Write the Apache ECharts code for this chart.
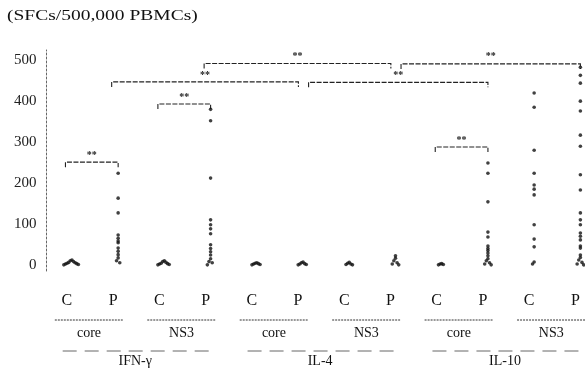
<!DOCTYPE html>
<html>
<head>
<meta charset="utf-8">
<script src="https://cdn.jsdelivr.net/npm/echarts@6/dist/echarts.min.js"></script>
<style>html,body{margin:0;padding:0;background:#fff}#c{width:585px;height:374px}</style>
</head>
<body>
<div id="c"></div>
<script>
// ---- data ----
const categories = ['C','P','C','P','C','P','C','P','C','P','C','P'];
const antigens = ['core','NS3','core','NS3','core','NS3'];
const cytokines = ['IFN-γ','IL-4','IL-10'];
const yTicks = [0,100,200,300,400,500];
const yTitle = '(SFCs/500,000 PBMCs)';

const ifnCoreC  = [0,1,2,3,4,5,6,8,10,12];
const ifnCoreP  = [224,163,127,73,65,58,54,41,33,25,17,10,5];
const ifnNs3C   = [0,1,2,3,4,6,8,10];
const ifnNs3P   = [380,352,212,110,98,88,76,49,40,32,24,15,8,5,0];
const il4CoreC  = [0,1,2,3,4,5];
const il4CoreP  = [0,1,2,3,5,7];
const il4Ns3C   = [0,1,2,4,6];
const il4Ns3P   = [0,2,5,10,16,22];
const il10CoreC = [0,1,2,3];
const il10CoreP = [249,224,154,80,68,46,40,35,29,22,15,10,5,2,0];
const il10Ns3C  = [420,385,280,224,195,185,171,98,63,44,7,2];
const il10Ns3P  = [483,463,444,400,376,317,290,220,183,127,110,98,78,70,61,46,41,24,18,12,6,2,0];

const columns = [ifnCoreC, ifnCoreP, ifnNs3C, ifnNs3P, il4CoreC, il4CoreP,
                 il4Ns3C, il4Ns3P, il10CoreC, il10CoreP, il10Ns3C, il10Ns3P];

// significance brackets: [from column, to column, level]
const brackets = [[0,1,251],[2,3,393],[1,5,447],[5,9,446],[3,7,492],[7,11,491],[8,9,288]];
const sigLabel = '**';

// ---- build scatter points (low values spread into a small heap) ----
const points = [];
columns.forEach((vals, ci) => {
  const low = vals.filter(v => v < 20).sort((a,b)=>b-a);
  const high = vals.filter(v => v >= 20);
  high.forEach(v => points.push([ci, v]));
  low.forEach((v, k) => {
    const step = Math.ceil(k/2) * (k % 2 ? -1 : 1);
    points.push([ci + step*0.035, v]);
  });
});

const serif = 'Liberation Serif, Times New Roman, serif';
const chart = echarts.init(document.getElementById('c'), null, {renderer:'canvas'});
const XMIN = -0.55, XMAX = 11.1;
const axisBase = {
  type:'value', min:XMIN, max:XMAX, position:'bottom',
  axisLine:{show:false}, axisTick:{show:false}, splitLine:{show:false}
};
chart.setOption({
  animation:false,
  backgroundColor:'#fff',
  grid:{left:46.5, right:0, top:50, bottom:103},
  xAxis:[
    Object.assign({}, axisBase, {
      axisLabel:{customValues: categories.map((c,i)=>i), formatter:v=>categories[Math.round(v)],
        margin:22, fontFamily:serif, fontSize:16, color:'#111', padding:[0,10,0,0]}
    }),
    Object.assign({}, axisBase, {
      axisLabel:{customValues: antigens.map((a,i)=>2*i+0.5), formatter:v=>antigens[Math.round((v-0.5)/2)],
        margin:55, fontFamily:serif, fontSize:14, color:'#111', padding:[0,12,0,0]}
    }),
    Object.assign({}, axisBase, {
      axisLabel:{customValues: cytokines.map((a,i)=>4*i+1.5), formatter:v=>cytokines[Math.round((v-1.5)/4)],
        margin:83, fontFamily:serif, fontSize:14, color:'#111', padding:[0,12,0,0]}
    })
  ],
  yAxis:{
    type:'value', min:-15, max:525,
    axisLine:{show:true, onZero:false, lineStyle:{color:'#666', width:1, type:[2,2]}},
    axisTick:{show:false}, splitLine:{show:false},
    axisLabel:{customValues:yTicks, margin:10, fontFamily:serif, fontSize:15, color:'#222'}
  },
  series:[
    {
      type:'scatter', data:points, symbol:'circle', symbolSize:3.6,
      itemStyle:{color:'#111'}, clip:false, silent:true
    },
    {
      type:'custom', data:brackets, clip:false, silent:true,
      renderItem:function(params, api){
        const a = api.value(0), b = api.value(1), lvl = api.value(2);
        const sharedLeft = brackets.some(o => o[1] === a && o[2] > lvl-20 && o[2] < lvl+20);
        const sharedRight = brackets.some(o => o[0] === b && o[2] > lvl-20 && o[2] < lvl+20);
        const l = api.coord([a + (sharedLeft ? 0.12 : -0.14), lvl]);
        const r = api.coord([b + (sharedRight ? -0.1 : 0), lvl]);
        return {type:'group', children:[
          {type:'polyline', shape:{points:[[l[0],l[1]+5],[l[0],l[1]],[r[0],r[1]],[r[0],r[1]+5]]},
            style:{stroke:'#222', lineWidth:1.1, fill:null, lineDash:[5,1.5]}},
          {type:'text', style:{text:sigLabel, x:(l[0]+r[0])/2, y:l[1]-2, align:'center', verticalAlign:'bottom',
            font:'bold 10px ' + serif, fill:'#222'}}
        ]};
      }
    }
  ]
});

// decorative underlines below the axis labels
const yBase = chart.convertToPixel({yAxisIndex:0}, -15);
const px = v => chart.convertToPixel({xAxisIndex:0}, v);
const graphics = [];
antigens.forEach((a, i) => {
  const x1 = px(2*i - 0.37), x2 = px(2*i + 1.1);
  graphics.push({type:'line', shape:{x1, y1:yBase+49, x2, y2:yBase+49},
    style:{stroke:'#333', lineWidth:1, lineDash:[2,1]}, silent:true});
});
cytokines.forEach((c, i) => {
  const x1 = px(4*i - 0.2), x2 = px(4*i + 3.1);
  graphics.push({type:'line', shape:{x1, y1:yBase+80, x2, y2:yBase+80},
    style:{stroke:'#666', lineWidth:1, lineDash:[14,8]}, silent:true});
});
graphics.push({type:'text', left:7, top:9, scaleX:1.3,
  style:{text:yTitle, font:'15px ' + serif, fill:'#111'}, silent:true});
chart.setOption({graphic:graphics});
</script>
</body>
</html>
